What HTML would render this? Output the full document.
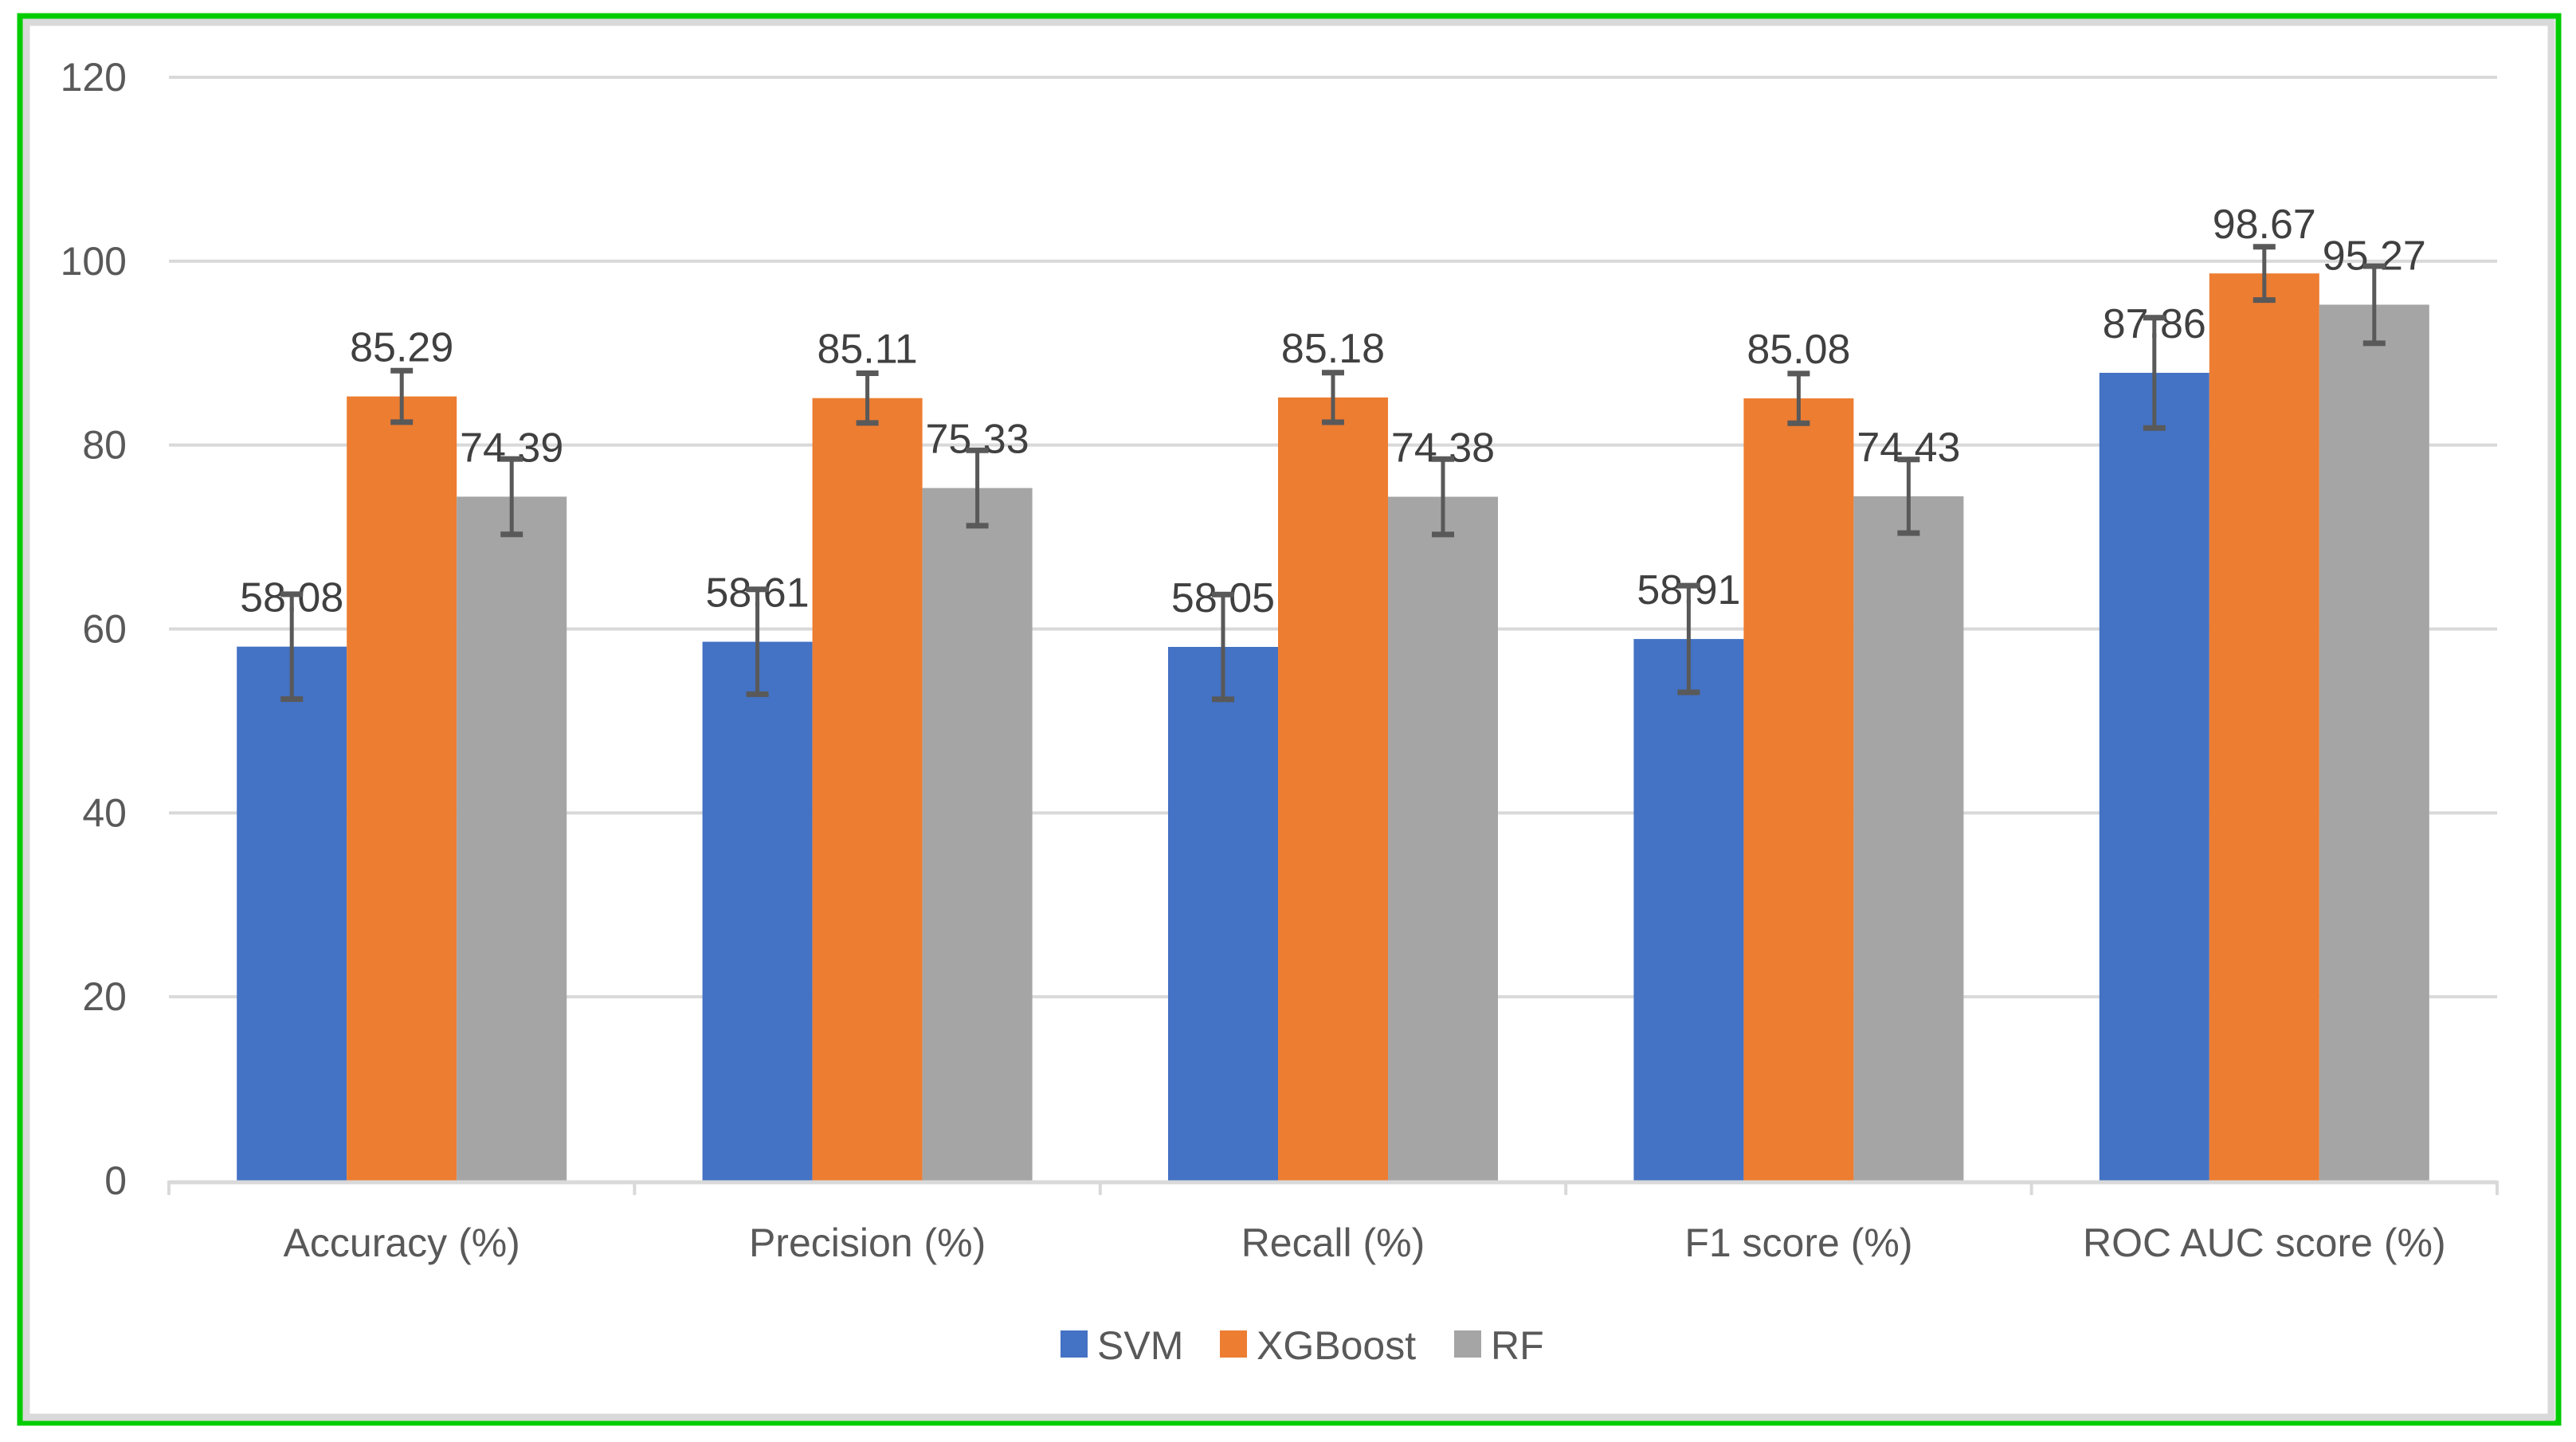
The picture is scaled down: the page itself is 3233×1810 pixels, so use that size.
<!DOCTYPE html>
<html><head><meta charset="utf-8"><style>
html,body{margin:0;padding:0;background:#fff;}
svg{display:block;font-family:"Liberation Sans",sans-serif;}
</style></head><body>
<svg id="chart" width="3233" height="1810" viewBox="0 0 3233 1810">
<rect x="25" y="20" width="3186" height="1766" fill="none" stroke="#00cc00" stroke-width="7"/>
<rect x="33" y="28" width="3169" height="1751" fill="none" stroke="#d9d9d9" stroke-width="9"/>
<g id="grid"></g><g id="bars"></g><g id="axis"></g><g id="legend"></g>
</svg>
<script>
const categories=["Accuracy (%)","Precision (%)","Recall (%)","F1 score (%)","ROC AUC score (%)"];
const seriesNames=["SVM","XGBoost","RF"];
const svmValues=[58.08,58.61,58.05,58.91,87.86];
const xgbValues=[85.29,85.11,85.18,85.08,98.67];
const rfValues=[74.39,75.33,74.38,74.43,95.27];
const svmErrors=[5.7,5.7,5.7,5.8,6.0];
const xgbErrors=[2.8,2.7,2.7,2.7,2.9];
const rfErrors=[4.1,4.1,4.1,4.0,4.2];
const yTicks=[0,20,40,60,80,100,120];
const colors=["#4472c4","#ed7d31","#a5a5a5"];
const NS="http://www.w3.org/2000/svg";
const x0=212,x1=3134,yBase=1482,yTop=97,yMax=120;
const catW=(x1-x0)/categories.length, barW=138;
function y(v){return yBase-(v/yMax)*(yBase-yTop);}
function mk(tag,attrs,parent,text){const e=document.createElementNS(NS,tag);for(const k in attrs)e.setAttribute(k,attrs[k]);if(text!==undefined)e.textContent=text;parent.appendChild(e);return e;}
const grid=document.getElementById('grid'),bars=document.getElementById('bars'),axis=document.getElementById('axis'),legend=document.getElementById('legend');
yTicks.forEach(t=>{
 if(t>0){const g=mk('line',{x1:x0,x2:x1,y1:y(t),y2:y(t),stroke:'#d9d9d9','stroke-width':4},grid);
 
 }
 const l=mk('text',{x:159,y:y(t)+17,'text-anchor':'end','font-size':50,fill:'#595959'},axis,String(t));
 
 
});
const ax=mk('line',{x1:x0,x2:x1,y1:yBase+2,y2:yBase+2,stroke:'#d9d9d9','stroke-width':5},axis);


for(let i=0;i<=categories.length;i++){
 const tk=mk('line',{x1:x0+i*catW,x2:x0+i*catW,y1:yBase,y2:yBase+18,stroke:'#d9d9d9','stroke-width':4},axis);
 
 
}
const allVals=[svmValues,xgbValues,rfValues], allErr=[svmErrors,xgbErrors,rfErrors];
categories.forEach((c,i)=>{
 const cx=x0+catW*(i+0.5);
 const cl=mk('text',{x:cx,y:1577,'text-anchor':'middle','font-size':50,fill:'#595959'},axis,c);
 
 
 for(let s=0;s<3;s++){
  const v=allVals[s][i], e=allErr[s][i];
  const bx=cx-1.5*barW+s*barW, bcx=bx+barW/2;
  const r=mk('rect',{x:bx,y:y(v),width:barW,height:yBase-y(v),fill:colors[s]},bars);
  
  
  const lb=mk('text',{x:bcx,y:y(v)-44,'text-anchor':'middle','font-size':52,fill:'#404040'},bars,v.toFixed(2));
  
  
  const eg=mk('g',{stroke:'#595959','stroke-width':5},bars);
  
  
  mk('line',{x1:bcx,x2:bcx,y1:y(v+e),y2:y(v-e)},eg);
  mk('line',{x1:bcx-14,x2:bcx+14,y1:y(v+e),y2:y(v+e),'stroke-width':7},eg);
  mk('line',{x1:bcx-14,x2:bcx+14,y1:y(v-e),y2:y(v-e),'stroke-width':7},eg);
 }
});
const legX=[1331,1531,1825];
seriesNames.forEach((n,s)=>{
 const g=mk('g',{},legend);
 
 
 mk('rect',{x:legX[s],y:1670,width:34,height:34,fill:colors[s]},g);
 mk('text',{x:legX[s]+46,y:1706,'font-size':50,fill:'#595959'},g,n);
});
</script>
</body></html>
